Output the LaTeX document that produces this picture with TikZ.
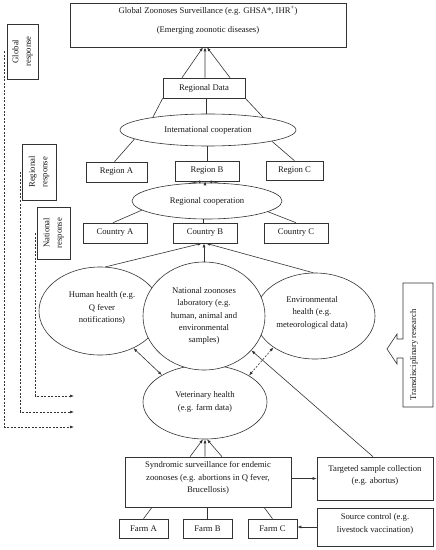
\documentclass[tikz,border=0pt]{standalone}
\usepackage{fontspec}
\setmainfont{Liberation Serif}
\usetikzlibrary{shapes.geometric,arrows.meta}
\begin{document}
\begin{tikzpicture}[x=1bp,y=-1bp,
  every node/.style={font=\fontsize{8.7}{12.5}\selectfont, text=black!90},
  box/.style={draw=black!80, line width=0.6bp, rectangle, inner sep=0pt, align=center, fill=white},
  ell/.style={draw=black!80, line width=0.6bp, ellipse, inner sep=0pt, align=center, fill=white},
  txt/.style={inner sep=0pt, align=center},
  ln/.style={draw=black!80, line width=0.6bp},
  tip/.style={-{Latex[length=4bp,width=3bp]}},
  arr/.style={ln, tip},
  darr/.style={ln, {Latex[length=4bp,width=3bp]}-{Latex[length=4bp,width=3bp]}},
  dsh/.style={ln, dash pattern=on 2bp off 1.5bp},
]
\useasboundingbox (0,0) rectangle (436,550);

% top level
\node[box, minimum width=276bp, minimum height=44bp] (glob) at (208,25) {};
\node[txt] (globt) at (208,20.5) {Global Zoonoses Surveillance (e.g. GHSA*, IHR\textsuperscript{+})\\[6.5bp](Emerging zoonotic diseases)};
\node[box, minimum width=82bp, minimum height=20bp] (rd) at (204,88) {Regional Data};
\node[ell, minimum width=176bp, minimum height=32bp] (intl) at (208,130) {International cooperation};

\node[box, minimum width=61bp, minimum height=20bp] (ra) at (116.5,172) {Region A};
\node[box, minimum width=64bp, minimum height=20bp] (rb) at (207,171) {Region B};
\node[box, minimum width=57bp, minimum height=19bp] (rc) at (294.5,170.5) {Region C};
\node[ell, minimum width=150bp, minimum height=36bp] (rcoop) at (207,201) {Regional cooperation};

\node[box, minimum width=64bp, minimum height=20bp] (ca) at (115,233) {Country A};
\node[box, minimum width=64bp, minimum height=20bp] (cb) at (205,233) {Country B};
\node[box, minimum width=64bp, minimum height=20bp] (cc) at (296,233) {Country C};

% response boxes
\node[box, rotate=90, minimum width=55bp, minimum height=31bp] (gresp) at (22.5,51.5) {Global\\response};
\node[box, rotate=90, minimum width=56bp, minimum height=34bp] (rresp) at (39,172) {Regional\\response};
\node[box, rotate=90, minimum width=52bp, minimum height=33bp] (nresp) at (53.5,233) {National\\response};

% health ellipses
\node[ell, minimum width=124bp, minimum height=74bp] (vet) at (205,402) {Veterinary health\\(e.g. farm data)};
\node[ell, minimum width=122bp, minimum height=88bp] (hum) at (100,311) {};
\node[txt] (humt) at (102,308) {Human health (e.g.\\Q fever\\notifications)};
\node[ell, minimum width=120bp, minimum height=86bp] (env) at (315,316) {};
\node[txt] (envt) at (312,312.5) {Environmental\\health (e.g.\\meteorological data)};
\node[ell, minimum width=122bp, minimum height=108bp] (lab) at (204,316) {National zoonoses\\laboratory (e.g.\\human, animal and\\environmental\\samples)};

% bottom
\node[box, minimum width=166bp, minimum height=50bp] (syn) at (208,482) {};
\node[txt] (synt) at (208,478) {Syndromic surveillance for endemic\\zoonoses (e.g. abortions in Q fever,\\Brucellosis)};
\node[box, minimum width=116bp, minimum height=43bp] (targ) at (375,478.5) {};
\node[txt] (targt) at (375,475.5) {Targeted sample collection\\(e.g. abortus)};
\node[box, minimum width=116bp, minimum height=38bp] (src) at (375,527) {};
\node[txt] (srct) at (375,524) {Source control (e.g.\\livestock vaccination)};
\node[box, minimum width=49bp, minimum height=19bp] (fa) at (143.5,528.5) {Farm A};
\node[box, minimum width=49bp, minimum height=19bp] (fb) at (207.5,528.5) {Farm B};
\node[box, minimum width=49bp, minimum height=19bp] (fc) at (272.5,528.5) {Farm C};

% transdisciplinary research callout
\draw[ln, fill=white] (433,283) -- (403,283) -- (403,339) -- (397,339) -- (397,334) -- (387,349) -- (397,364) -- (397,358) -- (403,358) -- (403,407) -- (433,407) -- cycle;
\node[txt, rotate=90] (trans) at (414,355) {Transdisciplinary research};

% connectors: Regional data -> global
\draw[arr] ([xshift=-22bp]rd.north) -- ([xshift=-5bp]glob.south);
\draw[arr] ([xshift=1bp]rd.north) -- ([xshift=-3bp]glob.south);
\draw[arr] ([xshift=26bp]rd.north) -- ([xshift=-1bp]glob.south);
% international cooperation -> regional data
\draw[ln] (intl.167) -- (rd.south west);
\draw[ln] ([xshift=-2bp]intl.north) -- ([xshift=-2bp]intl.north |- rd.south);
\draw[ln] (intl.13) -- (rd.south east);
% international cooperation -> regions
\draw[ln] (intl.187) -- ([xshift=-2bp]ra.north);
\draw[ln] (rb.north) -- (rb.north |- intl.south);
\draw[ln] (intl.350) -- (rc.north);
% regional coop -> region B
\draw[arr] (rcoop.134) -- ([xshift=-4bp]rb.south);
\draw[arr] ([xshift=-2bp]rcoop.north) -- ([xshift=-2bp]rb.south);
\draw[arr] (rcoop.58) -- ([xshift=1bp]rb.south);
% regional coop -> countries
\draw[ln] (rcoop.188) -- ([xshift=-2bp]ca.north);
\draw[ln] ([xshift=-2bp]cb.north) -- ([xshift=-2bp]cb.north |- rcoop.south);
\draw[ln] (rcoop.350) -- (cc.north);
% health -> country B
\draw[arr] (hum.83) -- ([xshift=-3bp]cb.south);
\draw[arr] (lab.north) -- ([xshift=-1bp]cb.south);
\draw[arr] ([xshift=-2bp]env.north) -- ([xshift=1bp]cb.south);
% exchanges
\draw[darr] (hum.-48) -- (vet.148);
\draw[darr, dash pattern=on 2bp off 1.5bp] (env.217) -- (vet.31);
\draw[arr] ([xshift=-2bp]targ.north) -- (lab.-36);
% syndromic -> vet
\draw[arr] ([xshift=-18bp]syn.north) -- ([xshift=-2bp]vet.south);
\draw[arr] ([xshift=-3bp]syn.north) -- (vet.south);
\draw[arr] ([xshift=14bp]syn.north) -- ([xshift=2bp]vet.south);
\draw[arr] (syn.east |- targ.west) -- (targ.west);
\draw[arr] (src.west) -- (src.west -| fc.east);
% syndromic -> farms
\draw[ln] ([xshift=-56bp]syn.south) -- (fa.north);
\draw[ln] (fb.north) -- (fb.north |- syn.south);
\draw[ln] ([xshift=56bp]syn.south) -- (fc.north);

% dashed response lines
\coordinate (gend) at (74,427);
\coordinate (rend) at (74,412);
\coordinate (nend) at (74,396);
\draw[dsh, tip] ([xshift=-2bp]gresp.north) |- (gend);
\draw[dsh, tip] ([xshift=-1bp]rresp.north) |- (rend);
\draw[dsh, tip] ([xshift=-1bp]nresp.north) |- (nend);
\end{tikzpicture}
\end{document}
